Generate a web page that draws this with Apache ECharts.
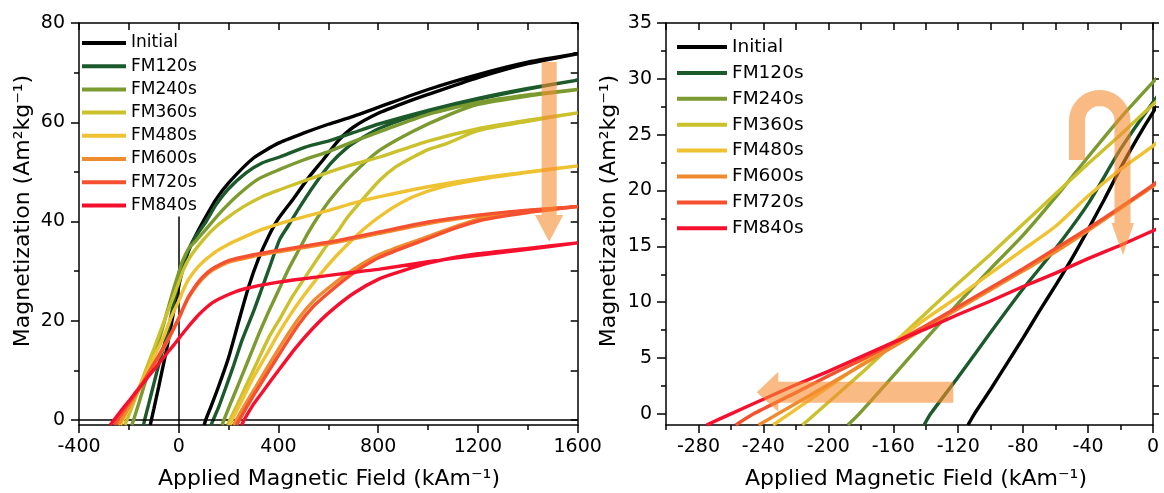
<!DOCTYPE html>
<html>
<head>
<meta charset="utf-8">
<script src="https://cdn.jsdelivr.net/npm/echarts@6/dist/echarts.min.js"></script>
<style>
html, body { margin: 0; padding: 0; background: #fff; }
#chart { width: 1164px; height: 493px; }
</style>
</head>
<body>
<div id="chart"></div>
<script>
// Hysteresis loops: [H (kA/m), M (A·m²/kg)]
// Descending branch ordered by increasing field, ascending branch from +1600 back down.
const sampleNames = ['Initial', 'FM120s', 'FM240s', 'FM360s', 'FM480s', 'FM600s', 'FM720s', 'FM840s'];

const initialDesc = [[-114,-1],[-110,0],[-100,2.2],[-90,4.5],[-80,6.8],[-70,9.2],[-60,11.5],[-50,13.9],[-40,16.5],[-30,19.2],[-20,22.0],[-10,24.6],[0,27.0],[10,29.2],[25,32.0],[45,34.8],[70,37.4],[100,40.2],[150,44.5],[200,47.8],[300,52.8],[400,55.8],[500,57.8],[600,59.6],[700,61.2],[800,63.0],[1000,66.6],[1200,69.6],[1400,72.1],[1600,73.8]];
const initialAsc = [[1600,73.8],[1400,71.8],[1200,69.0],[1000,65.6],[900,63.8],[800,61.8],[700,59.0],[640,56.3],[580,52.5],[520,48.8],[460,44.6],[400,40.6],[360,37.0],[320,32.5],[280,26.8],[240,19.8],[200,12.6],[160,6.8],[130,2.8],[108,0],[102,-1]];

const fm120Desc = [[-141,-1],[-137,0],[-120,3.3],[-100,7.3],[-80,11.2],[-60,14.8],[-40,18.8],[-20,23.7],[0,27.9],[15,30.8],[35,33.8],[65,36.8],[107,39.8],[150,43.4],[200,46.6],[270,49.8],[334,51.8],[405,53.0],[508,55.0],[606,56.3],[700,57.9],[806,59.7],[1000,62.4],[1200,64.8],[1400,66.8],[1600,68.5]];
const fm120Asc = [[1600,68.5],[1400,66.7],[1200,64.6],[1000,62.0],[900,60.6],[806,58.8],[740,57.0],[673,54.8],[606,51.5],[539,47.0],[480,42.5],[440,39.2],[405,36.4],[360,30.2],[334,26.6],[300,21.9],[254,16.1],[220,11.0],[187,6.3],[160,2.6],[138,0],[130,-1]];

const fm240Desc = [[-188,-1],[-181,0],[-160,3.4],[-140,6.7],[-120,9.9],[-100,13.0],[-80,16.0],[-60,19.4],[-40,23.0],[-20,26.5],[0,29.7],[15,32.0],[40,34.6],[70,36.2],[107,38.3],[170,42.0],[241,45.5],[320,48.6],[405,50.5],[500,52.4],[606,54.2],[700,56.1],[806,58.1],[1000,61.6],[1200,64.0],[1400,65.5],[1600,66.6]];
const fm240Asc = [[1600,66.6],[1400,65.3],[1200,63.6],[1074,61.3],[940,58.2],[806,54.4],[740,51.6],[673,48.3],[610,44.6],[562,41.2],[520,37.8],[481,34.2],[440,30.4],[401,26.2],[360,21.8],[321,17.3],[280,12.2],[241,7.4],[205,3.0],[181,0],[174,-1]];

const fm360Desc = [[-216,-1],[-208,0],[-180,3.6],[-160,6.3],[-140,9.0],[-120,11.7],[-100,14.3],[-80,17.0],[-60,19.7],[-40,22.4],[-20,25.0],[0,27.7],[20,30.4],[50,33.2],[107,36.8],[150,39.0],[201,41.0],[260,43.0],[334,45.0],[405,46.4],[508,48.3],[606,50.0],[700,51.5],[806,53.0],[1000,56.2],[1200,58.7],[1400,60.4],[1600,61.9]];
const fm360Asc = [[1600,61.9],[1400,60.2],[1200,58.3],[1074,55.7],[1000,54.5],[940,53.0],[870,51.0],[806,48.3],[740,44.6],[673,40.6],[642,38.3],[600,35.6],[562,32.9],[510,29.0],[455,24.8],[410,20.8],[361,16.6],[310,11.2],[268,6.7],[230,2.6],[205,0],[196,-1]];

const fm480Desc = [[-234,-1],[-224,0],[-200,2.4],[-180,4.4],[-160,6.4],[-140,8.5],[-120,10.5],[-100,12.6],[-80,14.7],[-60,16.8],[-40,19.5],[-20,21.9],[0,24.0],[20,26.4],[40,28.4],[80,31.0],[134,33.4],[200,35.4],[268,37.0],[334,38.4],[405,39.6],[506,41.0],[606,42.3],[700,43.7],[806,45.0],[1000,47.0],[1200,48.7],[1400,50.0],[1600,51.2]];
const fm480Asc = [[1600,51.2],[1400,49.9],[1200,48.4],[1050,46.9],[940,45.0],[840,42.2],[740,38.4],[642,33.6],[575,29.8],[508,25.5],[455,21.8],[401,17.5],[350,13.0],[294,8.1],[250,3.6],[213,0],[205,-1]];

const fm600Desc = [[-243,-1],[-231,0],[-200,2.6],[-180,4.3],[-160,6.0],[-140,7.7],[-120,9.4],[-100,11.1],[-80,12.8],[-60,14.5],[-40,16.4],[-20,18.4],[0,20.4],[20,22.7],[40,24.7],[80,27.6],[130,30.0],[200,31.8],[300,33.0],[400,33.9],[508,34.8],[642,35.9],[806,37.6],[1000,39.6],[1200,41.1],[1400,42.2],[1600,43.0]];
const fm600Asc = [[1600,43.0],[1400,42.0],[1208,40.5],[1100,38.8],[980,36.6],[900,35.2],[806,33.4],[740,31.6],[673,29.4],[600,26.6],[540,24.0],[480,20.4],[420,15.9],[360,11.0],[308,6.6],[260,2.6],[231,0],[220,-1]];

const fm720Desc = [[-257,-1],[-246,0],[-220,1.9],[-200,3.4],[-180,4.8],[-160,6.3],[-140,7.9],[-120,9.6],[-100,11.3],[-80,13.0],[-60,14.8],[-40,16.6],[-20,18.5],[0,20.5],[20,22.8],[40,24.9],[80,27.9],[130,30.3],[200,32.1],[300,33.3],[400,34.2],[508,35.1],[642,36.2],[806,37.9],[1000,39.9],[1200,41.3],[1400,42.3],[1600,43.0]];
const fm720Asc = [[1600,43.0],[1400,41.8],[1208,40.2],[1100,38.5],[980,36.2],[900,34.7],[806,32.8],[740,30.9],[673,28.6],[600,25.6],[540,22.9],[480,19.2],[420,14.6],[360,9.8],[308,5.6],[270,2.4],[243,0],[232,-1]];

const fm840Desc = [[-275,-1],[-260,0],[-240,1.3],[-220,2.6],[-200,3.8],[-180,5.1],[-160,6.4],[-140,7.6],[-120,8.9],[-100,10.1],[-80,11.4],[-60,12.6],[-40,13.9],[-20,15.1],[0,16.4],[20,17.7],[40,18.9],[80,21.2],[134,23.6],[200,25.3],[268,26.5],[400,27.8],[520,28.6],[642,29.4],[806,30.4],[1000,31.9],[1200,33.2],[1400,34.4],[1600,35.7]];
const fm840Asc = [[1600,35.7],[1400,34.6],[1200,33.5],[1100,32.7],[1000,31.6],[900,30.1],[806,28.5],[700,25.5],[606,21.8],[540,18.6],[470,14.6],[400,10.0],[350,6.6],[300,3.2],[262,0],[252,-1]];

// Tick values
const leftYTicks = [0, 20, 40, 60, 80];
const leftYMinor = [10, 30, 50, 70];
const leftYRight = [0, 10, 20, 30, 40, 50, 60, 70, 80];
const rightXTicks = [-280, -240, -200, -160, -120, -80, -40, 0];
const rightXMinor = [-300, -260, -220, -180, -140, -100, -60, -20];
const rightYTicks = [0, 5, 10, 15, 20, 25, 30, 35];
const rightYMinor = [2.5, 7.5, 12.5, 17.5, 22.5, 27.5, 32.5];
const rightYOnZero = [0, 2.5, 5, 7.5, 10, 12.5, 15, 17.5, 20, 22.5, 25, 27.5, 30, 32.5, 35];

const lineColors = ['#000000', '#1c5a2c', '#7b9a30', '#cbc12d', '#efc232', '#f08a2e', '#f5502f', '#f5102e'];
const descBranches = [initialDesc, fm120Desc, fm240Desc, fm360Desc, fm480Desc, fm600Desc, fm720Desc, fm840Desc];
const ascBranches = [initialAsc, fm120Asc, fm240Asc, fm360Asc, fm480Asc, fm600Asc, fm720Asc, fm840Asc];

const FONT = 'DejaVu Sans';
const LS = { color: '#000', width: 1.5 };
const plainNumber = function (v) { return String(v); };
const tickLabel = { color: '#000', fontFamily: FONT, fontSize: 19, formatter: plainNumber };

const G0 = { left: 79, top: 23, width: 498.7, height: 402 };
const G1 = { left: 666, top: 23, width: 487, height: 402 };

function axisBase(extra) {
  return Object.assign({
    type: 'value',
    axisLine: { show: true, onZero: false, lineStyle: LS },
    splitLine: { show: false },
    minorSplitLine: { show: false }
  }, extra);
}

const series = [];
sampleNames.forEach(function (name, i) {
  const loop = descBranches[i].concat(ascBranches[i].slice(1));
  series.push({
    name: name, type: 'line', xAxisIndex: 0, yAxisIndex: 0,
    data: loop, showSymbol: false, symbol: 'none', smooth: 0.2,
    lineStyle: { width: 3.4, color: lineColors[i] }, itemStyle: { color: lineColors[i] },
    z: 3 + i
  });
  series.push({
    name: name, type: 'line', xAxisIndex: 2, yAxisIndex: 2, clip: false,
    data: descBranches[i].filter(function (p) { return p[0] <= 20; }),
    showSymbol: false, symbol: 'none', smooth: 0.2,
    lineStyle: { width: 3.4, color: lineColors[i] }, itemStyle: { color: lineColors[i] },
    z: 3 + i
  });
});

// zero reference lines
const zeroStyle = { color: '#000', width: 1.5, type: 'solid' };
series[0].markLine = {
  silent: true, symbol: 'none', animation: false, label: { show: false }, lineStyle: zeroStyle,
  data: [{ yAxis: 0 }, [{ coord: [0, -1] }, { coord: [0, 41] }]]
};
series[1].markLine = {
  silent: true, symbol: 'none', animation: false, label: { show: false }, lineStyle: zeroStyle,
  data: [[{ coord: [-300, 0] }, { coord: [10, 0] }]]
};

// U-turn arrow path
const uPts = [[1077, 160], [1077, 120.75]];
for (let k = 1; k < 24; k++) {
  const a = Math.PI - Math.PI * k / 24;
  uPts.push([1099.75 + 22.75 * Math.cos(a), 120.75 - 22.75 * Math.sin(a)]);
}
uPts.push([1122.5, 120.75], [1122.5, 223]);
const arrowFill = 'rgba(246,140,50,0.6)';

const titleStyle = { fill: '#000', font: '22px "DejaVu Sans"',
  textAlign: 'center', textVerticalAlign: 'middle', align: 'center', verticalAlign: 'middle' };

const option = {
  animation: false,
  backgroundColor: '#fff',
  grid: [
    Object.assign({}, G0), Object.assign({}, G1),
    Object.assign({}, G0), Object.assign({}, G1)
  ],
  xAxis: [
    axisBase({ gridIndex: 0, position: 'bottom', min: -400, max: 1600, interval: 400,
      axisTick: { length: 8, lineStyle: LS },
      minorTick: { show: true, splitNumber: 2, length: 5, lineStyle: LS },
      axisLabel: Object.assign({ margin: 13 }, tickLabel) }),
    axisBase({ gridIndex: 0, position: 'top', min: -400, max: 1600, interval: 200,
      axisTick: { inside: true, length: 7, lineStyle: LS }, axisLabel: { show: false } }),
    axisBase({ gridIndex: 1, position: 'bottom', min: -300, max: 0,
      axisTick: { length: 8, customValues: rightXTicks, lineStyle: LS },
      axisLabel: Object.assign({ margin: 13, customValues: rightXTicks }, tickLabel) }),
    axisBase({ gridIndex: 1, position: 'top', min: -300, max: 0, interval: 20,
      axisTick: { inside: true, length: 7, lineStyle: LS }, axisLabel: { show: false } }),
    axisBase({ gridIndex: 2, show: false, min: -400, max: 1600 }),
    axisBase({ gridIndex: 3, position: 'bottom', min: -300, max: 0,
      axisLine: { show: false, onZero: false },
      axisTick: { length: 5, customValues: rightXMinor, lineStyle: LS }, axisLabel: { show: false } })
  ],
  yAxis: [
    axisBase({ gridIndex: 0, position: 'left', min: -1, max: 80,
      axisTick: { length: 8, customValues: leftYTicks, lineStyle: LS },
      axisLabel: Object.assign({ margin: 14, customValues: leftYTicks }, tickLabel) }),
    axisBase({ gridIndex: 0, position: 'right', min: -1, max: 80,
      axisTick: { inside: true, length: 7, customValues: leftYRight, lineStyle: LS }, axisLabel: { show: false } }),
    axisBase({ gridIndex: 1, position: 'left', min: -1, max: 35,
      axisTick: { length: 9, customValues: rightYTicks, lineStyle: LS },
      axisLabel: Object.assign({ margin: 14, customValues: rightYTicks }, tickLabel) }),
    axisBase({ gridIndex: 1, position: 'right', min: -1, max: 35,
      axisTick: { length: 6, customValues: rightYOnZero, lineStyle: LS }, axisLabel: { show: false } }),
    axisBase({ gridIndex: 2, position: 'left', min: -1, max: 80,
      axisLine: { show: false, onZero: false },
      axisTick: { length: 5, customValues: leftYMinor, lineStyle: LS }, axisLabel: { show: false } }),
    axisBase({ gridIndex: 3, position: 'left', min: -1, max: 35,
      axisLine: { show: false, onZero: false },
      axisTick: { length: 5, customValues: rightYMinor, lineStyle: LS }, axisLabel: { show: false } })
  ],
  legend: [
    { data: sampleNames, orient: 'vertical', left: 82, top: 33, padding: 0,
      icon: 'rect', itemWidth: 44, itemHeight: 4, itemGap: 3.2, selectedMode: false,
      textStyle: { color: '#000', fontFamily: FONT, fontSize: 17, lineHeight: 20 } },
    { data: sampleNames, orient: 'vertical', left: 677, top: 36, padding: 0,
      icon: 'rect', itemWidth: 50, itemHeight: 4, itemGap: 3.9, selectedMode: false,
      textStyle: { color: '#000', fontFamily: FONT, fontSize: 18.5, lineHeight: 22 } }
  ],
  graphic: [
    { type: 'text', x: 23, y: 211, rotation: Math.PI / 2, z: 50,
      style: Object.assign({ text: 'Magnetization (Am²kg⁻¹)' }, titleStyle) },
    { type: 'text', x: 609, y: 211, rotation: Math.PI / 2, z: 50,
      style: Object.assign({ text: 'Magnetization (Am²kg⁻¹)' }, titleStyle) },
    { type: 'text', x: 329, y: 479, z: 50,
      style: Object.assign({ text: 'Applied Magnetic Field (kAm⁻¹)' }, titleStyle) },
    { type: 'text', x: 916, y: 479, z: 50,
      style: Object.assign({ text: 'Applied Magnetic Field (kAm⁻¹)' }, titleStyle) },
    // downward arrow (left panel)
    { type: 'polygon', z: 60, silent: true,
      shape: { points: [[541.7, 62], [556.7, 62], [556.7, 215], [563.3, 215], [549.2, 241.7], [535, 215], [541.7, 215]] },
      style: { fill: arrowFill } },
    // U-turn arrow (right panel)
    { type: 'polyline', z: 60, silent: true,
      shape: { points: uPts },
      style: { stroke: arrowFill, lineWidth: 16, fill: null, lineJoin: 'round' } },
    { type: 'polygon', z: 60, silent: true,
      shape: { points: [[1111.5, 223], [1134, 223], [1123, 255]] },
      style: { fill: arrowFill } },
    // leftward arrow (right panel)
    { type: 'polygon', z: 60, silent: true,
      shape: { points: [[953.3, 381.7], [953.3, 402.7], [778.3, 402.7], [778.3, 411.7], [756.7, 392.3], [778.3, 371.7], [778.3, 381.7]] },
      style: { fill: arrowFill } }
  ],
  series: series
};

const chart = echarts.init(document.getElementById('chart'), null, { renderer: 'canvas' });
chart.setOption(option);
</script>
</body>
</html>
